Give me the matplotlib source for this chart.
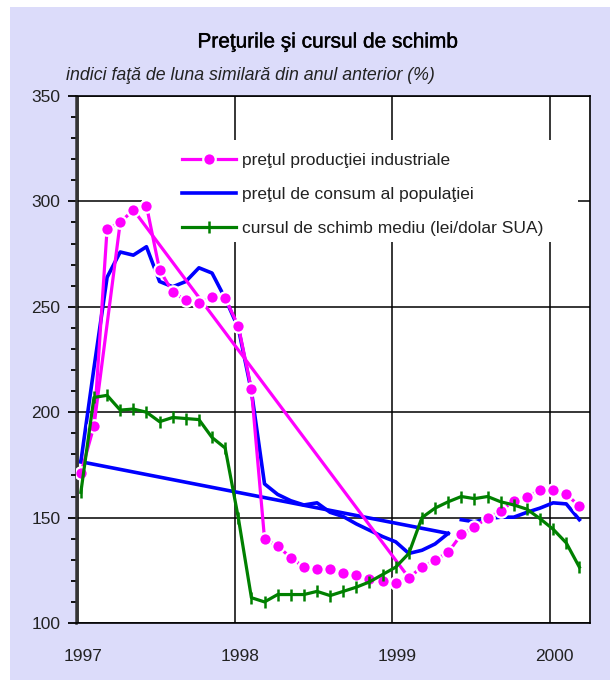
import numpy as np
import pandas as pd
import matplotlib
matplotlib.use('Agg')
import matplotlib.pyplot as plt
import matplotlib.patheffects as pe
from matplotlib.ticker import MultipleLocator
from matplotlib.patches import Rectangle
from matplotlib.transforms import ScaledTranslation

plt.rcParams['font.family'] = ['Liberation Sans', 'DejaVu Sans']

# luni: ian 1997 - mar 2000
luni = pd.date_range('1997-01-01', periods=39, freq='MS')

pret_ind = [171, 193.5, 287, 290, 296, 298, 267.5, 257, 253, 252, 254.5, 254,
            241, 211, 140, 136.5, 131, 126.5, 125.5, 125.5, 123.5, 123, 121, 120,
            119, 121.5, 126.5, 130, 133.5, 142, 145.5, 150, 153, 158, 160, 163,
            163, 161, 155.5]
pret_cons = [176.5, 221, 264, 276, 274.5, 278.5, 262, 259.5, 262, 268.5, 266, 254,
             240, 210, 166, 161, 158, 156, 157, 152.5, 150.5, 147, 144, 141,
             138.5, 133, 134.5, 137.5, 142.5, 149, 148, 149.5, 150.2, 150.2, 152.5, 154.5,
             157, 156.5, 149]
curs = [162, 207, 208, 201, 201.5, 200, 195.5, 197.5, 197, 196.5, 188, 183,
        150, 112, 110, 113.5, 113.5, 113.5, 115, 113, 115, 117, 119.5, 123,
        126.5, 133, 150, 154.5, 157.5, 160, 159, 160, 157.5, 156, 154, 149.5,
        144.5, 138, 126.5]

# segmente "parazite" din graficul original (perechi de luni unite direct)
extra_ind = [(1, 3), (4, 25)]
extra_cons = [(0, 28)]
rupere_cons = 29   # linia albastra e intrerupta intre luna 28 si 29

labels = ['preţul producţiei industriale',
          'preţul de consum al populaţiei',
          'cursul de schimb mediu (lei/dolar SUA)']
ani = [1997, 1998, 1999, 2000]

magenta = '#FF00FF'
albastru = '#0000FF'
verde = '#008000'
fundal = '#DCDCFA'
textc = '#222222'

x = luni.year + (luni.month - 1 + 0.25) / 12.0
ind = np.array(pret_ind)
cons = np.array(pret_cons)
fx = np.array(curs)

fig = plt.figure(figsize=(6.1, 6.82), dpi=100, facecolor='white')
bg = Rectangle((10/610., 2/682.), 1.0, (680-7)/682., transform=fig.transFigure,
               facecolor=fundal, edgecolor='none', zorder=-10)
fig.add_artist(bg)

ax = fig.add_axes([76/610., 1-623/682., (590-76)/610., (623-96)/682.])
ax.set_facecolor('white')
ax.set_axisbelow(True)

# caseta alba a legendei (ascunde grila)
ax.add_patch(Rectangle((0.128, 0.723), 0.849, 0.194, transform=ax.transAxes,
                       facecolor='white', edgecolor='none', zorder=1))

lw = 2.3
ax.plot(x[:rupere_cons], cons[:rupere_cons], color=albastru, lw=2.6, zorder=2,
        solid_joinstyle='round', label=labels[1])
ax.plot(x[rupere_cons:], cons[rupere_cons:], color=albastru, lw=2.6, zorder=2,
        solid_joinstyle='round')
for a, b in extra_cons:
    ax.plot(x[[a, b]], cons[[a, b]], color=albastru, lw=2.6, zorder=2)

for a, b in extra_ind:
    ax.plot(x[[a, b]], ind[[a, b]], color=magenta, lw=lw, zorder=3)
ax.plot(x, ind, color=magenta, lw=lw, marker='o', ms=9, mfc=magenta,
        mec='white', mew=1.6, zorder=3, label=labels[0])

ax.plot(x, fx, color=verde, lw=lw, marker='|', ms=9, mew=1.8, zorder=4,
        label=labels[2])

ax.set_xlim(1996.99, 2000.255)
ax.set_ylim(100, 350)

ax.set_xticks(ani)
ax.set_xticklabels([str(a) for a in ani])
ax.tick_params(axis='x', length=0, pad=19, labelsize=12.5, labelcolor=textc)
off = ScaledTranslation(5/100., 0, fig.dpi_scale_trans)
for lab in ax.get_xticklabels():
    lab.set_transform(lab.get_transform() + off)

ax.yaxis.set_major_locator(MultipleLocator(50))
ax.yaxis.set_minor_locator(MultipleLocator(10))
ax.tick_params(axis='y', which='major', direction='out', length=5.8, width=1.3,
               pad=5.5, labelsize=12.5, labelcolor=textc)
ax.tick_params(axis='y', which='minor', direction='out', length=3.8, width=1.3)

ax.grid(True, which='major', color='black', lw=1.1)
for s in ax.spines.values():
    s.set_color('black')
    s.set_linewidth(1.2)
ax.spines['left'].set_linewidth(1.8)
ax.spines['left'].set_color('#333333')

h, l = ax.get_legend_handles_labels()
order = [l.index(t) for t in labels]
leg = ax.legend([h[i] for i in order], [l[i] for i in order],
                loc='upper left', bbox_to_anchor=(0.19, 0.908),
                frameon=False, fontsize=12.5, handlelength=3.1,
                handletextpad=0.35, labelspacing=1.08, borderpad=0, numpoints=1)
for t in leg.get_texts():
    t.set_color(textc)
leg.set_zorder(5)

fig.text(328/610., 1-42/682., 'Preţurile şi cursul de schimb', fontsize=15,
         ha='center', va='center', color='black',
         path_effects=[pe.withStroke(linewidth=0.3, foreground='black')])
fig.text(66/610., 1-75/682., 'indici faţă de luna similară din anul anterior (%)',
         fontsize=12.8, style='italic', ha='left', va='center', color=textc)

fig.savefig('out.png', dpi=100, facecolor=fig.get_facecolor())
